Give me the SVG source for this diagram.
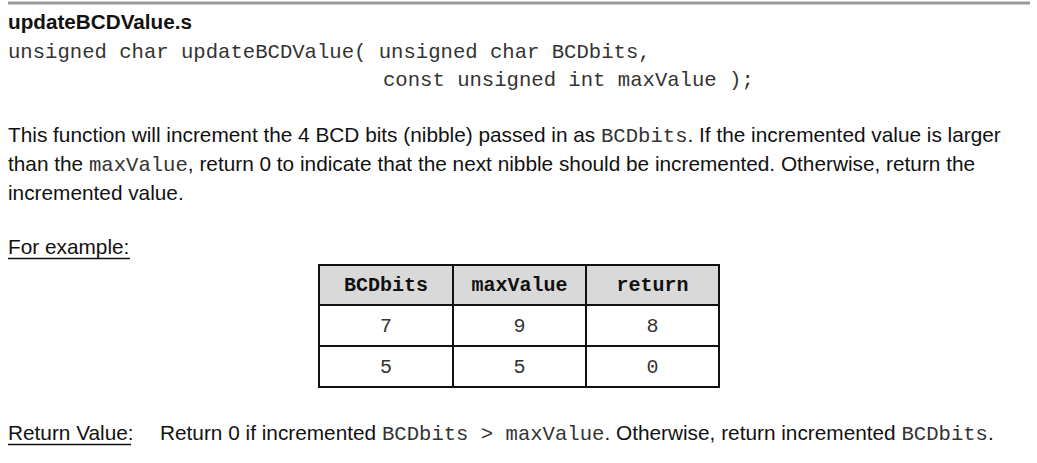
<svg xmlns="http://www.w3.org/2000/svg" width="1037" height="463" viewBox="0 0 1037 463">
<style>
.s{font-family:"Liberation Sans",Arial,sans-serif;font-size:20.8px;fill:#111}
.h{font-family:"Liberation Sans",Arial,sans-serif;font-size:20.7px;font-weight:bold;fill:#111}
.m{font-family:"Liberation Mono","Courier New",monospace;font-size:20.6px;fill:#333}
.tb{font-family:"Liberation Mono","Courier New",monospace;font-size:20px;font-weight:bold;fill:#111}
.tv{font-family:"Liberation Mono","Courier New",monospace;font-size:20px;fill:#333}
.g{stroke:#111;stroke-width:2;fill:none}
</style>
<rect width="1037" height="463" fill="#fff"/>
<line x1="8" y1="3" x2="1030" y2="3" stroke="#9a9a9a" stroke-width="3"/>
<text class="h" x="8" y="29">updateBCDValue.s</text>
<text class="m" x="8" y="58" xml:space="preserve">unsigned char updateBCDValue( unsigned char BCDbits,</text>
<text class="m" x="383" y="86" xml:space="preserve">const unsigned int maxValue );</text>

<text class="s" x="8" y="142" xml:space="preserve">This function will increment the 4 BCD bits (nibble) passed in as <tspan class="m">BCDbits</tspan>. If the incremented value is larger</text>
<text class="s" x="8" y="171" xml:space="preserve">than the <tspan class="m">maxValue</tspan>, return 0 to indicate that the next nibble should be incremented. Otherwise, return the</text>
<text class="s" x="8" y="200">incremented value.</text>

<text class="s" x="8" y="254">For example:</text>
<line x1="8" y1="258.5" x2="130" y2="258.5" stroke="#111" stroke-width="1.5"/>

<g id="table">
<rect x="319" y="265" width="400" height="40" fill="#d9d9d9"/>
<rect class="g" x="319" y="265" width="400" height="122"/>
<line class="g" x1="319" y1="305" x2="719" y2="305"/>
<line class="g" x1="319" y1="346" x2="719" y2="346"/>
<line class="g" x1="453" y1="265" x2="453" y2="387"/>
<line class="g" x1="586" y1="265" x2="586" y2="387"/>
<text class="tb" x="386" y="291" text-anchor="middle">BCDbits</text>
<text class="tb" x="519.5" y="291" text-anchor="middle">maxValue</text>
<text class="tb" x="652.5" y="291" text-anchor="middle">return</text>
<text class="tv" x="386" y="332" text-anchor="middle">7</text>
<text class="tv" x="519.5" y="332" text-anchor="middle">9</text>
<text class="tv" x="652.5" y="332" text-anchor="middle">8</text>
<text class="tv" x="386" y="373" text-anchor="middle">5</text>
<text class="tv" x="519.5" y="373" text-anchor="middle">5</text>
<text class="tv" x="652.5" y="373" text-anchor="middle">0</text>
</g>

<text class="s" x="8" y="440">Return Value:</text>
<line x1="8" y1="444.5" x2="131" y2="444.5" stroke="#111" stroke-width="1.5"/>
<text class="s" x="160" y="440" xml:space="preserve">Return 0 if incremented <tspan class="m">BCDbits &gt; maxValue</tspan>. Otherwise, return incremented <tspan class="m">BCDbits</tspan>.</text>
</svg>
